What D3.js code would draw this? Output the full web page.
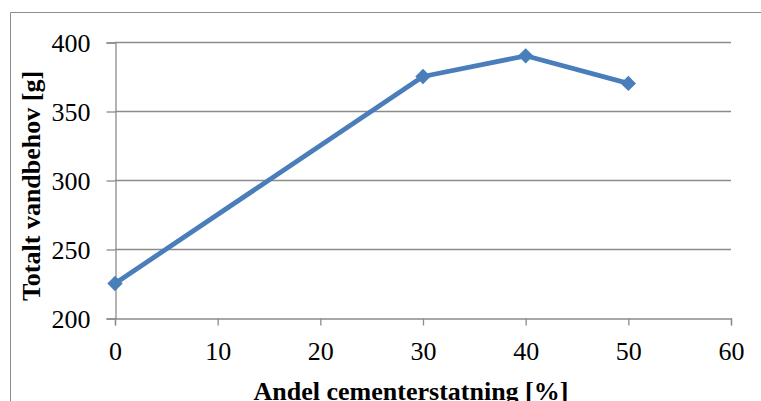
<!DOCTYPE html>
<style>
  body { margin: 0; background: #fff; }
  svg { font-family: "Liberation Serif", "Times New Roman", serif; }
</style>
<svg width="761" height="401"></svg>
<script src="https://d3js.org/d3.v7.min.js"></script>
<script>

// data
var andel = [0, 30, 40, 50];
var vandbehov = [225, 375, 390, 370];
var xTicks = [0, 10, 20, 30, 40, 50, 60];
var yTicks = [200, 250, 300, 350, 400];

var svg = d3.select("svg");
var blue = "#4a7ebb";
var grid = "#8c8c8c";

// outer frame (top + left only, the rest is cropped)
svg.append("path")
    .attr("d", "M10.5,401 V12.5 H761")
    .attr("fill", "none")
    .attr("stroke", "#8c8c8c")
    .attr("stroke-width", 1);

var x = d3.scaleLinear().domain([0, 60]).range([115, 731]);
var y = d3.scaleLinear().domain([200, 400]).range([318, 42]);

// horizontal gridlines
svg.append("g")
  .selectAll("line")
  .data(yTicks.slice(1))
  .enter().append("line")
    .attr("x1", x(0))
    .attr("x2", x(60))
    .attr("y1", function(d) { return Math.round(y(d)) + 0.5; })
    .attr("y2", function(d) { return Math.round(y(d)) + 0.5; })
    .attr("stroke", grid)
    .attr("stroke-width", 1.3);

// y axis
var yAxis = svg.append("g")
    .attr("transform", "translate(" + (x(0) + 0.5) + ",0.5)")
    .call(d3.axisLeft(y).tickValues(yTicks).tickSize(9).tickPadding(16));

// x axis
var xAxis = svg.append("g")
    .attr("transform", "translate(0," + (y(200) + 0.5) + ")")
    .call(d3.axisBottom(x).tickValues(xTicks).tickSize(7).tickPadding(16));

[yAxis, xAxis].forEach(function(a) {
  a.attr("font-family", "Liberation Serif, serif").attr("font-size", 26);
  a.select(".domain").attr("stroke", grid).attr("stroke-width", 1.3);
  a.selectAll(".tick line").attr("stroke", grid).attr("stroke-width", 1.3);
  a.selectAll(".tick text").attr("fill", "#000");
});
yAxis.selectAll(".tick text").attr("dy", "0.33em");
xAxis.selectAll(".tick text").attr("dy", "0.71em");

// series line
var line = d3.line()
    .x(function(d, i) { return x(andel[i]); })
    .y(function(d) { return y(d); });

svg.append("path")
    .datum(vandbehov)
    .attr("d", line)
    .attr("fill", "none")
    .attr("stroke", blue)
    .attr("stroke-width", 4.8)
    .attr("stroke-linejoin", "round");

// diamond markers
svg.append("g")
  .selectAll("path")
  .data(vandbehov)
  .enter().append("path")
    .attr("d", d3.symbol().type(d3.symbolDiamond2).size(150))
    .attr("transform", function(d, i) { return "translate(" + x(andel[i]) + "," + y(d) + ")"; })
    .attr("fill", blue);

// axis titles
svg.append("text")
    .attr("x", 411)
    .attr("y", 400)
    .attr("text-anchor", "middle")
    .style("font-weight", "bold")
    .style("font-size", "26px")
    .text("Andel cementerstatning [%]");

svg.append("text")
    .attr("transform", "translate(40,186) rotate(-90)")
    .attr("text-anchor", "middle")
    .style("font-weight", "bold")
    .style("font-size", "26px")
    .text("Totalt vandbehov [g]");

</script>
